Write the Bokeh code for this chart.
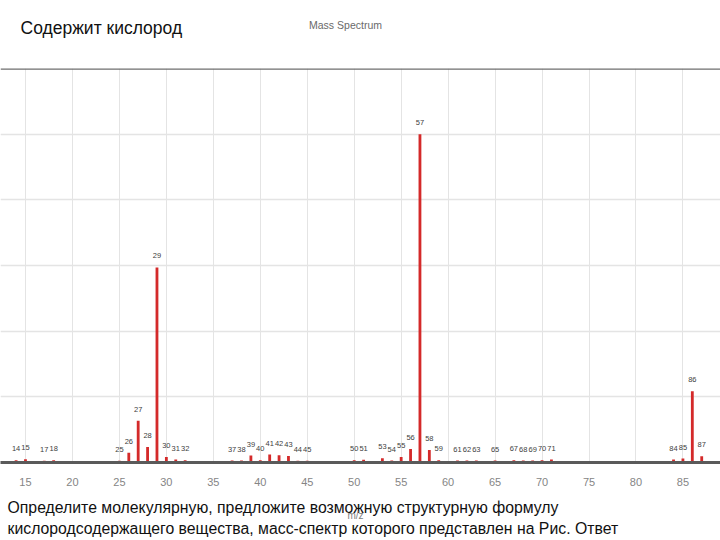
from bokeh.plotting import figure
from bokeh.layouts import column
from bokeh.models import (Range1d, FixedTicker, Grid, Span, Label, ColumnDataSource)
from bokeh.core.properties import value
from bokeh.embed import file_html
from bokeh.resources import INLINE

# m/z values and relative intensities (%)
mz = [14, 15, 17, 18, 25, 26, 27, 28, 29, 30, 31, 32,
      37, 38, 39, 40, 41, 42, 43, 44, 45, 50, 51, 53, 54, 55, 56, 57, 58, 59,
      61, 62, 63, 65, 67, 68, 69, 70, 71, 84, 85, 86, 87]
intensity = [0.7, 1.0, 0.5, 0.7, 0.5, 3.0, 12.7, 4.7, 59.4, 1.7, 0.9, 0.7,
             0.6, 0.6, 2.1, 0.7, 2.4, 2.2, 2.0, 0.5, 0.5, 0.7, 0.8, 1.3, 0.6, 1.7, 4.1, 100.0, 3.8, 0.7,
             0.6, 0.6, 0.6, 0.6, 0.7, 0.6, 0.6, 0.7, 0.9, 0.9, 1.2, 21.7, 1.9]
peak_labels = [str(m) for m in mz]
x_ticks = [15, 20, 25, 30, 35, 40, 45, 50, 55, 60, 65, 70, 75, 80, 85]
y_grid = [20, 40, 60, 80, 100]

title_text = "Mass Spectrum"
header_text = "Содержит кислород"
question_lines = [
    "Определите молекулярную, предложите возможную структурную формулу",
    "кислородсодержащего вещества, масс-спектр которого представлен на Рис. Ответ",
]
x_label = "m/z"

FONT = "Liberation Sans"
W = 720
TOP_H = 64
MAIN_H = 432
BOT_H = 44


def blank(h, y_start, y_end):
    f = figure(width=W, height=h, output_backend="svg", toolbar_location=None,
               x_range=Range1d(0, W), y_range=Range1d(y_start, y_end),
               x_axis_location=None, y_axis_location=None,
               min_border=0, min_border_left=0, min_border_right=0,
               min_border_top=0, min_border_bottom=0)
    f.outline_line_color = None
    f.xgrid.visible = False
    f.ygrid.visible = False
    f.background_fill_color = "white"
    f.border_fill_color = "white"
    return f


# ---- header strip (y measured in page pixels, downward) ----
top = blank(TOP_H, TOP_H, 0)
top.add_layout(Label(x=20, y=27, text=header_text, text_font=FONT,
                     text_font_size="17.5px", text_color="#111111", text_baseline="middle"))
top.add_layout(Label(x=345, y=24, text=title_text, text_font=FONT, text_align="center",
                     text_font_size="10.5px", text_color="#6a6a6a", text_baseline="middle"))

# ---- main spectrum ----
p = figure(width=W, height=MAIN_H, output_backend="svg", toolbar_location=None,
           x_range=Range1d(12.34, 89.0), y_range=Range1d(0, 120),
           y_axis_location=None, min_border_left=0, min_border_right=0,
           min_border_top=4, min_border_bottom=34)
p.outline_line_color = None
p.background_fill_color = "white"
p.border_fill_color = "white"

p.xgrid.ticker = FixedTicker(ticks=x_ticks)
p.xgrid.grid_line_color = "#e4e4e4"
p.ygrid.grid_line_color = None
p.add_layout(Grid(dimension=1, ticker=FixedTicker(ticks=y_grid),
                  grid_line_color="#e4e4e4", grid_line_width=1.5))
p.add_layout(Span(location=120, dimension="width", line_color="#6e6e6e", line_width=2.5))

ax = p.xaxis[0]
ax.ticker = FixedTicker(ticks=x_ticks)
ax.axis_line_color = "#5a5a5a"
ax.axis_line_width = 3
ax.major_tick_line_color = None
ax.minor_tick_line_color = None
ax.major_label_standoff = 9
ax.major_label_text_font = FONT
ax.major_label_text_font_size = "11px"
ax.major_label_text_color = "#858585"

src = ColumnDataSource(dict(mz=mz, intensity=intensity, lab=peak_labels))
p.vbar(x="mz", top="intensity", width=0.3, source=src,
       fill_color="#d42a2a", line_color=None)
p.text(x="mz", y="intensity", text="lab", source=src, y_offset=-9,
       text_align="center", text_baseline="bottom",
       text_font=value(FONT), text_font_size="7.5px", text_color="#404040")

# ---- bottom strip (y measured in page pixels, downward) ----
y0 = TOP_H + MAIN_H
bot = blank(BOT_H, y0 + BOT_H, y0)
for i, line in enumerate(question_lines):
    bot.add_layout(Label(x=7, y=507 + 21 * i, text=line, text_font=FONT,
                         text_font_size="15.8px", text_color="#111111", text_baseline="middle"))
bot.add_layout(Label(x=355, y=515, text=x_label, text_font=FONT, text_align="center",
                     text_font_size="10px", text_color="#808080", text_baseline="middle"))

layout = column(top, p, bot, spacing=0)
open("out.html", "w").write(file_html(layout, INLINE))
